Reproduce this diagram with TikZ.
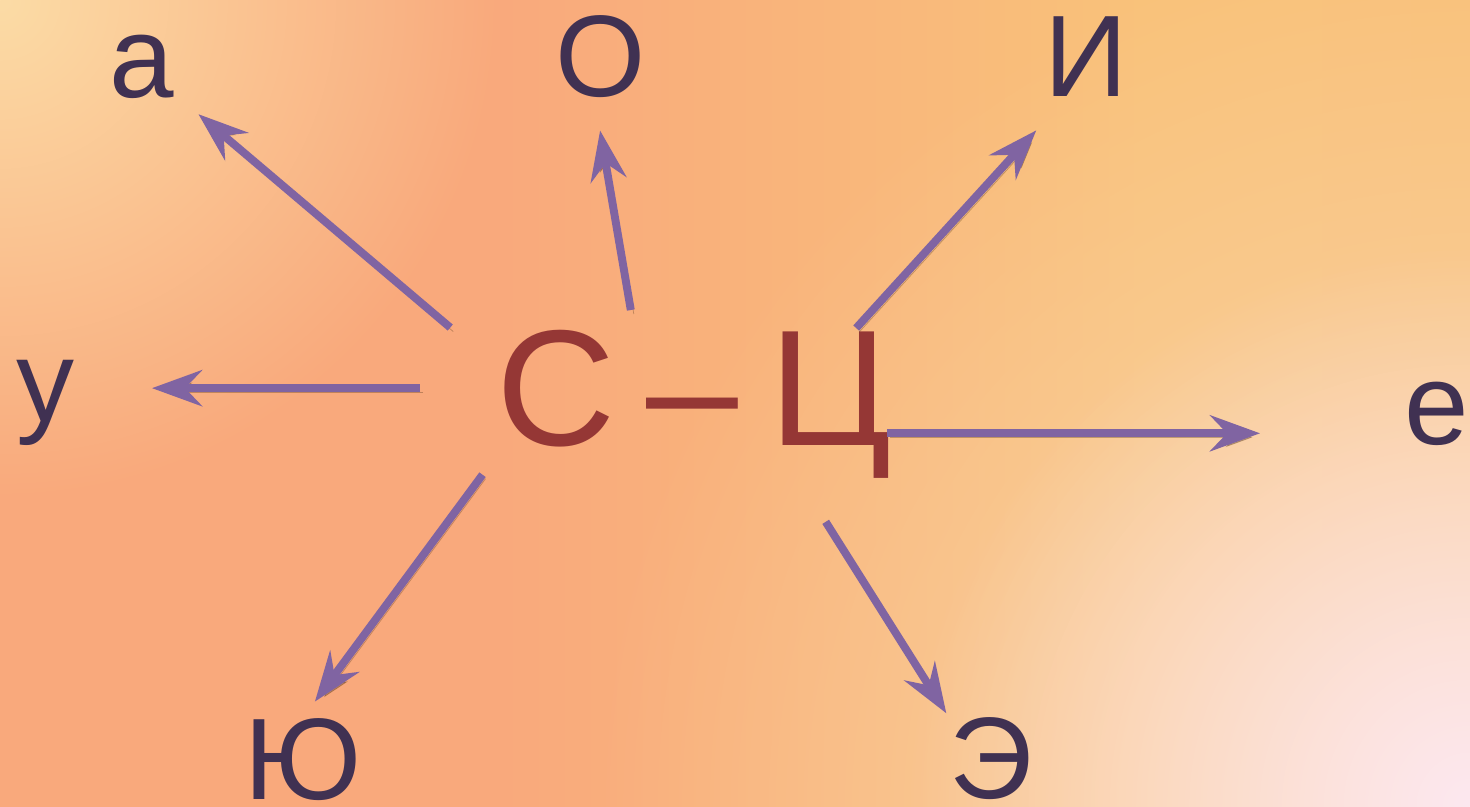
\documentclass[tikz,border=0pt]{standalone}
\usepackage{fontspec}
\setmainfont{Liberation Sans}
\usetikzlibrary{arrows.meta, fadings}

\definecolor{vowelink}{HTML}{403152}
\definecolor{syllred}{HTML}{953735}
\definecolor{arrowpurple}{HTML}{8064A2}
\definecolor{bgleft}{HTML}{FAC896}
\definecolor{bgsalmon}{HTML}{F9A97C}
\definecolor{bgorange}{HTML}{F9C27A}
\definecolor{bgright}{HTML}{F8BF78}
\definecolor{bgcream}{HTML}{FCDCA6}
\definecolor{bgpeach}{HTML}{FBD5AC}
\definecolor{bgpink}{HTML}{FDE8F0}
\pgfdeclarehorizontalshading{bgshade}{100bp}{color(0bp)=(bgleft); color(24bp)=(bgsalmon); color(42bp)=(bgsalmon); color(64bp)=(bgorange); color(100bp)=(bgright)}
\tikzfading[name=glowfade, inner color=transparent!0, outer color=transparent!100]

\begin{document}
\begin{tikzpicture}[x=0.02cm,y=-0.02cm,
  vowel/.style={inner sep=0pt, anchor=base, text=vowelink, font=\fontsize{66}{66}\selectfont},
  syll/.style={inner sep=0pt, anchor=base, text=syllred, font=\fontsize{94}{94}\selectfont},
  arr/.style={draw=arrowpurple, line width=4.5pt, -{Stealth[length=1cm,width=0.72cm,inset=0.34cm]},
    preaction={draw=black!55!brown, opacity=0.35, transform canvas={shift={(3,4)}}}}]
  % background
  \useasboundingbox (0,0) rectangle (1470,806);
  \shade[shading=bgshade] (0,0) rectangle (1470,806);
  \fill[bgcream, path fading=glowfade] (0,0) circle (500);
  \fill[bgpeach, path fading=glowfade] (1470,806) circle (880);
  \fill[bgpink, path fading=glowfade] (1470,806) circle (560);

  % syllable
  \node[syll] (s) at (556,445) {С};
  \node[syll] (dash) at (692,445) {–};
  \node[syll] (ts) at (831,445) {Ц};

  % vowels
  \node[vowel] (a) at (142,97) {а};
  \node[vowel] (o) at (601,96) {О};
  \node[vowel] (i) at (1086,96) {И};
  \node[vowel] (u) at (45,421) {у};
  \node[vowel] (e) at (1437,444) {е};
  \node[vowel] (yu) at (303,799) {Ю};
  \node[vowel] (eh) at (991,798) {Э};

  % arrows
  \draw[arr, shorten <=1.2cm, shorten >=1.48cm] (s.160) -- (a.center);
  \draw[arr, shorten <=1.77cm, shorten >=0.67cm] (dash.north west) -- (o.261);
  \draw[arr, shorten <=2.72cm, shorten >=2.14cm] (s.center) -- (s -| u.center);
  \draw[arr, shorten <=0.69cm, shorten >=0.4cm] (s.228) -- (yu.north);
  \draw[arr, shorten <=0.08cm, shorten >=0.92cm] (ts.73) -- (i.245);
  \draw[arr, shorten <=-0.1cm, shorten >=3.54cm] (ts.335) -- (ts.335 -| e.center);
  \draw[arr, shorten <=1.03cm, shorten >=0.1cm] (ts.246) -- (eh.136);
\end{tikzpicture}
\end{document}
